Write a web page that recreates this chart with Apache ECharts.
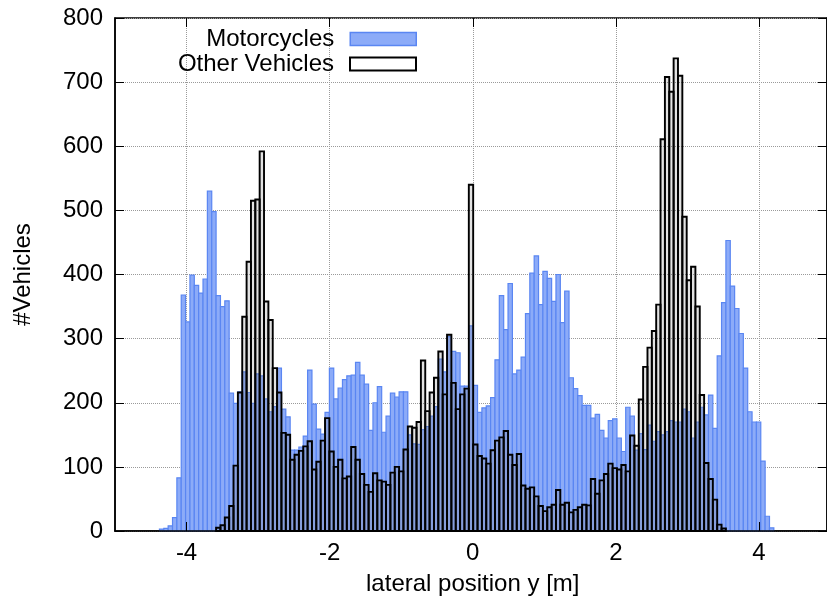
<!DOCTYPE html>
<html>
<head>
<meta charset="utf-8">
<script src="https://cdn.jsdelivr.net/npm/echarts@6/dist/echarts.min.js"></script>
<style>
  html, body { margin: 0; padding: 0; background: #ffffff; }
  #chart { width: 827px; height: 606px; }
</style>
</head>
<body>
<div id="chart"></div>
<script>
// Histogram bin width [m]; bins are centred on multiples of it.
const binWidth = 0.0612;

// Motorcycles: counts per bin, first bin index below.
const motoFirstBin = -71;
const motoCounts = [
  3, 4, 8, 21, 83, 368, 326, 399, 383, 371,
  393, 530, 498, 367, 350, 359, 215, 199, 217, 248,
  216, 199, 245, 242, 206, 186, 194, 254, 190, 178,
  126, 126, 131, 148, 251, 198, 159, 151, 185, 254,
  206, 223, 236, 242, 243, 263, 243, 229, 157, 200,
  225, 154, 179, 215, 209, 217, 217, 150, 136, 135,
  158, 163, 179, 194, 268, 248, 303, 280, 278, 226,
  226, 320, 227, 185, 192, 195, 208, 267, 367, 314,
  386, 245, 251, 271, 339, 402, 429, 353, 405, 394,
  358, 400, 325, 374, 239, 222, 211, 196, 196, 176,
  182, 157, 145, 172, 175, 145, 124, 193, 179, 126,
  152, 127, 165, 140, 155, 150, 155, 172, 170, 170,
  190, 186, 145, 170, 193, 181, 212, 160, 273, 356,
  453, 382, 347, 308, 254, 186, 170, 170, 109, 23,
  5
];

// Other vehicles: counts per bin, first bin index below.
const otherFirstBin = -58;
const otherCounts = [
  5, 9, 21, 39, 102, 216, 334, 420, 515, 517,
  592, 358, 329, 254, 216, 153, 150, 111, 119, 125,
  132, 140, 96, 108, 141, 176, 124, 100, 111, 82,
  85, 131, 111, 89, 72, 61, 90, 79, 77, 72,
  91, 100, 93, 127, 163, 161, 170, 266, 187, 216,
  239, 280, 213, 306, 231, 190, 213, 222, 540, 135,
  117, 113, 105, 126, 141, 146, 156, 119, 103, 120,
  71, 66, 68, 54, 39, 31, 37, 41, 64, 41,
  44, 29, 33, 37, 41, 40, 81, 58, 79, 89,
  105, 98, 96, 103, 93, 149, 133, 205, 256, 286,
  312, 353, 611, 708, 685, 737, 710, 490, 391, 412,
  350, 212, 106, 81, 49, 10, 4
];

// Axis ranges and ticks
const xRange = [-5, 5];
const xTickRange = [-4, 4];
const xTickStep = 2;
const yRange = [0, 800];
const yTickStep = 100;

const seriesNames = ['Motorcycles', 'Other Vehicles'];
const xTitle = 'lateral position y [m]';
const yTitle = '#Vehicles';

// ---- styling ----
const FONT = 'Liberation Sans, Arial, sans-serif';
const FS = 24;
const motoFill = '#8cabf8';
const motoEdge = '#5a86f2';
const otherEdge = '#000000';
const otherFill = 'rgba(110,110,110,0.2)';
const gridColor = '#9a9a9a';

const plot = { left: 115, top: 18, width: 715.5, height: 513 };
const pxPerUnit = plot.width / (xRange[1] - xRange[0]);
const tickPlot = {
  left: plot.left + (xTickRange[0] - xRange[0]) * pxPerUnit,
  top: plot.top,
  width: (xTickRange[1] - xTickRange[0]) * pxPerUnit,
  height: plot.height
};

function toBins(first, counts) {
  return counts.map((v, i) => [(first + i) * binWidth, v]);
}

function barRenderer(fill, stroke, lw) {
  return function (params, api) {
    const x = api.value(0);
    const v = api.value(1);
    const p0 = api.coord([x - binWidth / 2, v]);
    const p1 = api.coord([x + binWidth / 2, 0]);
    return {
      type: 'rect',
      shape: { x: p0[0], y: p0[1], width: p1[0] - p0[0], height: p1[1] - p0[1] },
      style: { fill: fill, stroke: stroke, lineWidth: lw }
    };
  };
}

const chart = echarts.init(document.getElementById('chart'), null, { renderer: 'canvas' });

const labelStyle = { fontFamily: FONT, fontSize: FS, color: '#000' };

chart.setOption({
  animation: false,
  backgroundColor: '#ffffff',
  grid: [
    Object.assign({ show: true, borderColor: '#000', borderWidth: 1.5, backgroundColor: 'transparent' }, plot),
    Object.assign({}, tickPlot)
  ],
  legend: [
    {
      data: [{ name: seriesNames[0], icon: 'rect',
               itemStyle: { color: motoFill, borderColor: motoEdge, borderWidth: 1.5 } }],
      right: 827 - 417, top: 27, padding: 0, align: 'right', orient: 'vertical',
      itemWidth: 66, itemHeight: 13, selectedMode: false,
      textStyle: Object.assign({ padding: [0, 11, 0, 0] }, labelStyle)
    },
    {
      data: [{ name: seriesNames[1], icon: 'rect',
               itemStyle: { color: '#ffffff', borderColor: otherEdge, borderWidth: 2 } }],
      right: 827 - 417, top: 52, padding: 0, align: 'right', orient: 'vertical',
      itemWidth: 66, itemHeight: 13, selectedMode: false,
      textStyle: Object.assign({ padding: [0, 11, 0, 0] }, labelStyle)
    }
  ],
  xAxis: [
    { // data axis, draws the bottom frame line above the bars
      gridIndex: 0, type: 'value', min: xRange[0], max: xRange[1], position: 'bottom', z: 10,
      axisLine: { show: true, lineStyle: { color: '#000', width: 1.5 } },
      axisTick: { show: false }, axisLabel: { show: false }, splitLine: { show: false }
    },
    { // vertical grid lines behind the bars
      gridIndex: 1, type: 'value', min: xTickRange[0], max: xTickRange[1], interval: xTickStep, z: 0,
      axisLine: { show: false }, axisTick: { show: false }, axisLabel: { show: false },
      splitLine: { show: true, lineStyle: { color: gridColor, type: 'dotted', width: 1 } }
    },
    { // bottom ticks, labels and title
      gridIndex: 1, type: 'value', min: xTickRange[0], max: xTickRange[1], interval: xTickStep,
      position: 'bottom', z: 10,
      name: xTitle, nameLocation: 'middle', nameGap: 41,
      nameTextStyle: labelStyle,
      axisLine: { show: false },
      axisTick: { show: true, inside: true, length: 9, lineStyle: { color: '#000', width: 1 } },
      axisLabel: Object.assign({ margin: 10 }, labelStyle),
      splitLine: { show: false }
    },
    { // mirrored ticks on top
      gridIndex: 1, type: 'value', min: xTickRange[0], max: xTickRange[1], interval: xTickStep,
      position: 'top', z: 10,
      axisLine: { show: false },
      axisTick: { show: true, inside: true, length: 9, lineStyle: { color: '#000', width: 1 } },
      axisLabel: { show: false }, splitLine: { show: false }
    }
  ],
  yAxis: [
    { // horizontal grid lines behind the bars
      gridIndex: 0, type: 'value', min: yRange[0], max: yRange[1], interval: yTickStep, z: 0,
      axisLine: { show: false }, axisTick: { show: false }, axisLabel: { show: false },
      splitLine: { show: true, lineStyle: { color: gridColor, type: 'dotted', width: 1 } }
    },
    { // left ticks, labels and title
      gridIndex: 0, type: 'value', min: yRange[0], max: yRange[1], interval: yTickStep,
      position: 'left', z: 10,
      name: yTitle, nameLocation: 'middle', nameGap: 80, nameRotate: 90,
      nameTextStyle: labelStyle,
      axisLine: { show: true, lineStyle: { color: '#000', width: 1.5 } },
      axisTick: { show: true, inside: true, length: 9, lineStyle: { color: '#000', width: 1 } },
      axisLabel: Object.assign({ margin: 12 }, labelStyle),
      splitLine: { show: false }
    },
    { // mirrored ticks on the right
      gridIndex: 0, type: 'value', min: yRange[0], max: yRange[1], interval: yTickStep,
      position: 'right', z: 10,
      axisLine: { show: true, lineStyle: { color: '#000', width: 1.5 } },
      axisTick: { show: true, inside: true, length: 9, lineStyle: { color: '#000', width: 1 } },
      axisLabel: { show: false }, splitLine: { show: false }
    },
    {
      gridIndex: 1, type: 'value', min: yRange[0], max: yRange[1], show: false
    }
  ],
  series: [
    {
      name: seriesNames[0], type: 'custom', xAxisIndex: 0, yAxisIndex: 0, z: 2,
      itemStyle: { color: motoFill },
      renderItem: barRenderer(motoFill, motoEdge, 1.2),
      data: toBins(motoFirstBin, motoCounts)
    },
    {
      name: seriesNames[1], type: 'custom', xAxisIndex: 0, yAxisIndex: 0, z: 3,
      itemStyle: { color: '#ffffff' },
      renderItem: barRenderer(otherFill, otherEdge, 1.9),
      data: toBins(otherFirstBin, otherCounts)
    }
  ]
});
</script>
</body>
</html>
